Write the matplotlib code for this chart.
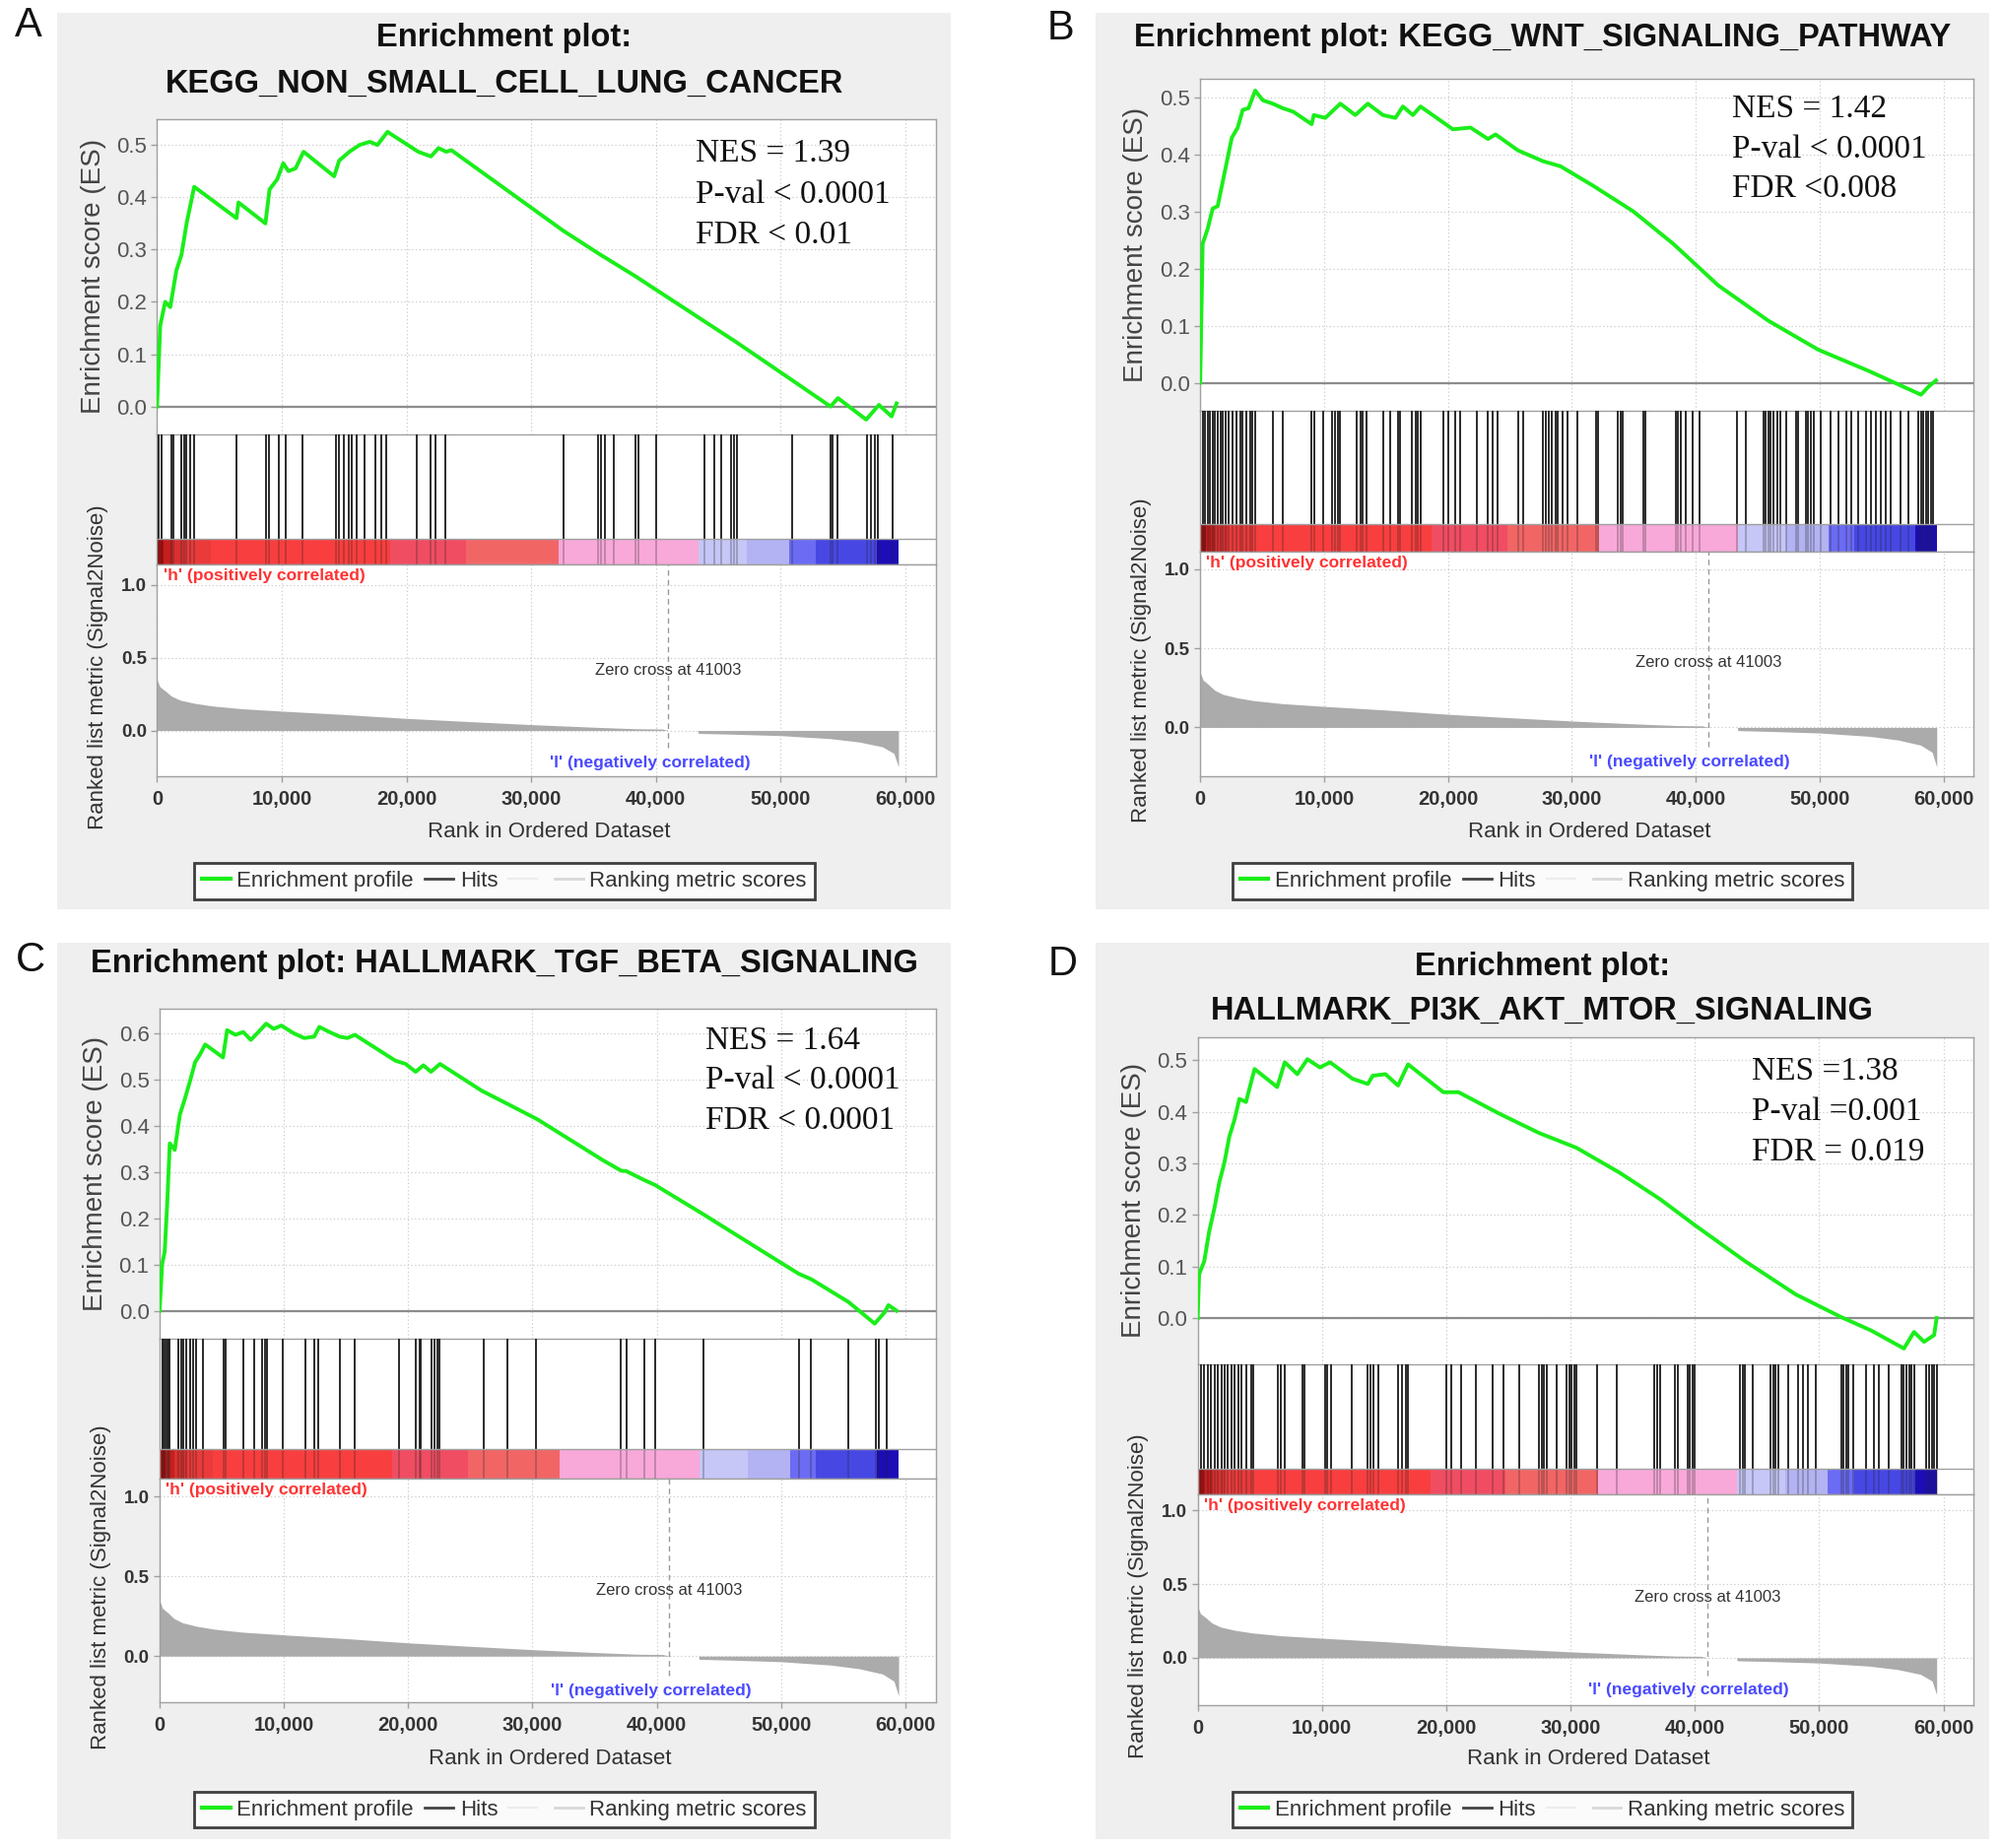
import matplotlib
matplotlib.use('Agg')
import matplotlib.pyplot as plt
from matplotlib.lines import Line2D
from matplotlib.patches import Rectangle

plt.rcParams['font.family'] = ['Liberation Sans', 'DejaVu Sans']

# ---------------- data ----------------
rank_ticks = [0, 10000, 20000, 30000, 40000, 50000, 60000]
n_genes = 59450
zero_cross = 41003

# ranked list metric (same ordered dataset in all panels)
metric_rank = [0, 230, 690, 1150, 1840, 2990, 4370, 6670, 10000, 14940, 20000, 25060,
               30110, 35170, 38390, 40500, 41003, 43350, 43400, 46000, 50000, 54000,
               56300, 58160, 59080, 59450]
metric_val = [0.348, 0.30, 0.27, 0.236, 0.209, 0.187, 0.169, 0.15, 0.133, 0.11, 0.083, 0.061,
              0.04, 0.022, 0.012, 0.01, 0.0, 0.0, -0.02, -0.025, -0.035, -0.056,
              -0.079, -0.112, -0.157, -0.25]

# colour strip under the hits
bar_edges = [0, 500, 1200, 2200, 4300, 18700, 24800, 32200, 43400, 47300, 50700, 52800, 57700, 59450]
bar_colors = ['#a80c0c', '#c41f1f', '#d93030', '#ea3a3a', '#f83e3e', '#f04c62', '#f26565',
              '#f8a8d9', '#c6c6f7', '#b3b3f3', '#6b6bf4', '#4747e4', '#1c0db6']

titles = {
    'A': ['Enrichment plot:', 'KEGG_NON_SMALL_CELL_LUNG_CANCER'],
    'B': ['Enrichment plot: KEGG_WNT_SIGNALING_PATHWAY'],
    'C': ['Enrichment plot: HALLMARK_TGF_BETA_SIGNALING'],
    'D': ['Enrichment plot:', 'HALLMARK_PI3K_AKT_MTOR_SIGNALING'],
}
stats = {
    'A': ['NES = 1.39', 'P-val < 0.0001', 'FDR < 0.01'],
    'B': ['NES = 1.42', 'P-val < 0.0001', 'FDR <0.008'],
    'C': ['NES = 1.64', 'P-val < 0.0001', 'FDR < 0.0001'],
    'D': ['NES =1.38', 'P-val =0.001', 'FDR = 0.019'],
}

# A: KEGG_NON_SMALL_CELL_LUNG_CANCER
es_rank_a = [0, 250, 650, 1060, 1550, 1960, 2370, 2980, 6370, 6530, 8690, 9020, 9630, 10120,
             10530, 11100, 11750, 14200, 14600, 15420, 16240, 17050, 17670, 18480, 20940,
             21960, 22570, 23180, 23600, 32570, 35430, 38290, 46450, 50940, 54000, 54600,
             56860, 57880, 58900, 59300]
es_val_a = [0, 0.154, 0.20, 0.19, 0.26, 0.29, 0.35, 0.42, 0.36, 0.39, 0.35, 0.415, 0.434, 0.465,
            0.45, 0.455, 0.487, 0.44, 0.47, 0.487, 0.50, 0.506, 0.50, 0.525, 0.487,
            0.478, 0.494, 0.487, 0.49, 0.336, 0.292, 0.25, 0.123, 0.05, 0.0, 0.016,
            -0.025, 0.003, -0.019, 0.006]
hits_a = [120, 330, 1140, 1350, 1960, 2160, 2370, 2690, 2980, 6370, 8770, 8980, 9790, 10320,
          11670, 14320, 14610, 15010, 15340, 15630, 16030, 16650, 17540, 17950, 18360, 20850,
          21950, 22360, 23090, 32560, 35330, 35620, 35900, 36640, 38350, 38600, 40030, 43900,
          44720, 45210, 46020, 46230, 46510, 50920, 53980, 54180, 54590, 56960, 57240, 57530,
          57770, 59000]

# B: KEGG_WNT_SIGNALING_PATHWAY
es_rank_b = [0, 200, 600, 1010, 1410, 2020, 2550, 3030, 3430, 3900, 4440, 5050, 5860, 6670,
             7500, 9000, 9170, 10100, 11310, 12520, 13530, 14750, 15760, 16360, 17170, 17780,
             20400, 21820, 23230, 23840, 25650, 27670, 29090, 31710, 34950, 38180, 41810,
             45850, 49890, 53930, 55950, 58180, 58780, 59390]
es_val_b = [0, 0.244, 0.27, 0.306, 0.31, 0.374, 0.43, 0.448, 0.479, 0.482, 0.513, 0.496, 0.49,
            0.482, 0.476, 0.454, 0.47, 0.465, 0.49, 0.47, 0.49, 0.47, 0.465, 0.485, 0.47, 0.485,
            0.445, 0.448, 0.428, 0.436, 0.408, 0.389, 0.38, 0.346, 0.301, 0.244, 0.171,
            0.109, 0.058, 0.021, 0.001, -0.021, -0.007, 0.004]
hits_b = [200, 400, 610, 810, 1010, 1210, 1410, 1620, 1820, 2020, 2300, 2630, 2950, 3230, 3430,
          3760, 4040, 4240, 4440, 5860, 6670, 9010, 9210, 9900, 10630, 10910, 11110, 11310,
          12650, 12930, 13130, 13450, 14750, 15350, 15960, 16160, 17090, 17370, 17570, 17780,
          19590, 20000, 20600, 21010, 22340, 23230, 23630, 24040, 25650, 26060, 27670, 27880,
          28160, 28400, 28680, 28890, 29290, 29610, 30420, 31920, 32120, 33730, 33940, 34140,
          35750, 35960, 38380, 38580, 38780, 39190, 39710, 40280, 43350, 44040, 45450, 45650,
          45850, 46060, 46260, 46580, 46860, 47270, 48080, 48280, 48880, 49090, 49290, 49490,
          50100, 50900, 51510, 52120, 52520, 53130, 53730, 54140, 54540, 54940, 55350, 55750,
          56560, 57170, 57970, 58180, 58380, 58580, 58780, 58980, 59190]

# C: HALLMARK_TGF_BETA_SIGNALING
es_rank_c = [0, 200, 410, 610, 820, 1220, 1630, 2040, 2450, 2860, 3260, 3670, 5100, 5430, 6100,
             6730, 7340, 7950, 8570, 9180, 9790, 10810, 11630, 12440, 12850, 13670, 14480,
             15100, 15710, 18970, 19790, 20600, 21220, 21830, 22560, 25910, 27950, 30400,
             35700, 37130, 37540, 38960, 39860, 43780, 47940, 51410, 52430, 55410, 57530,
             58340, 58630, 59280]
es_val_c = [0, 0.10, 0.128, 0.231, 0.362, 0.348, 0.424, 0.459, 0.497, 0.538, 0.555, 0.576,
            0.548, 0.607, 0.597, 0.603, 0.586, 0.603, 0.621, 0.61, 0.617, 0.60, 0.59, 0.593,
            0.614, 0.603, 0.593, 0.59, 0.597, 0.541, 0.534, 0.517, 0.531, 0.517, 0.534, 0.476,
            0.448, 0.414, 0.325, 0.303, 0.302, 0.283, 0.272, 0.208, 0.138, 0.080, 0.068,
            0.019, -0.028, -0.003, 0.012, 0.0]
hits_c = [200, 330, 450, 610, 690, 820, 1510, 1710, 1920, 2160, 2450, 2730, 2940, 3470, 5180,
          5300, 6730, 7630, 8280, 8450, 8650, 9910, 11750, 12440, 12730, 14480, 15710, 19300,
          20600, 20890, 21010, 21910, 22110, 22360, 22520, 26110, 27950, 30310, 37130, 37540,
          38960, 39860, 43780, 51410, 52430, 55410, 57650, 57850, 58470]

# D: HALLMARK_PI3K_AKT_MTOR_SIGNALING
es_rank_d = [0, 120, 530, 930, 1340, 1740, 2150, 2550, 2960, 3360, 3890, 4580, 6400, 7010,
             8020, 8830, 9840, 10650, 12470, 13690, 14090, 15110, 16120, 16930, 19770, 20990,
             24220, 27460, 30500, 33940, 37180, 40010, 44060, 48110, 51760, 54180, 56820,
             57630, 58440, 59250, 59450]
es_val_d = [0, 0.085, 0.11, 0.168, 0.212, 0.263, 0.301, 0.352, 0.384, 0.425, 0.419, 0.483,
            0.448, 0.496, 0.473, 0.502, 0.486, 0.496, 0.464, 0.454, 0.47, 0.473, 0.451, 0.492,
            0.438, 0.438, 0.397, 0.359, 0.33, 0.282, 0.231, 0.18, 0.11, 0.046, 0.002, -0.024,
            -0.059, -0.027, -0.046, -0.033, 0.0]
hits_d = [240, 520, 800, 1080, 1380, 1640, 1900, 2190, 2450, 2720, 3000, 3250, 3560, 3890,
          4290, 4460, 6480, 6720, 7010, 8420, 8630,
          10250, 10450, 10770, 12390, 13690, 13890, 14180, 14500, 16120, 16440, 16730, 16930,
          19970, 20370, 21180, 22400, 23730, 24620, 25840, 27460, 27660, 27860, 28070, 28880,
          29690, 29890, 30090, 30290, 30500, 32120, 33740, 36770, 36980, 37180, 38390, 38600,
          39410, 39610, 39810, 40010, 43660, 43860, 44060, 44670, 46090, 46290, 46490, 46700,
          47510, 48320, 48720, 49130, 49730, 51760, 51960, 52160, 52370, 52770, 53780, 54390,
          54800, 55610, 56620, 56820, 57020, 57230, 57430, 57630, 58640, 58850, 59050, 59250,
          59450]

series = {
    'A': (es_rank_a, es_val_a, hits_a),
    'B': (es_rank_b, es_val_b, hits_b),
    'C': (es_rank_c, es_val_c, hits_c),
    'D': (es_rank_d, es_val_d, hits_d),
}

# ---------------- layout (reference pixels, 1568 x 1447 grid) ----------------
W, H = 1568.0, 1447.0
layout = {
    'A': dict(bg=(45, 10, 745, 712), letter=(22, 20), title_y=[30, 66], x0=123, x1=733,
              es=(93, 340), hits=(340, 442), bar=20, rank=(442, 608), xlabel_y=651,
              legend_y=690, es_ylim=(-0.053, 0.55), rank_ylim=(-0.316, 1.14),
              nes_x=43200, nes_y=[0.483, 0.405, 0.327]),
    'B': dict(bg=(858, 10, 1558, 712), letter=(831, 22), title_y=[30], x0=940, x1=1546,
              es=(62, 322), hits=(322, 432), bar=22, rank=(432, 608), xlabel_y=651,
              legend_y=690, es_ylim=(-0.05, 0.533), rank_ylim=(-0.31, 1.11),
              nes_x=42900, nes_y=[0.48, 0.41, 0.341]),
    'C': dict(bg=(45, 738, 745, 1440), letter=(24, 752), title_y=[755], x0=125, x1=733,
              es=(790, 1048), hits=(1048, 1158), bar=23, rank=(1158, 1333), xlabel_y=1377,
              legend_y=1417, es_ylim=(-0.06, 0.653), rank_ylim=(-0.29, 1.11),
              nes_x=43900, nes_y=[0.584, 0.498, 0.412]),
    'D': dict(bg=(858, 738, 1558, 1440), letter=(832, 755), title_y=[757, 792], x0=938, x1=1546,
              es=(812, 1068), hits=(1068, 1170), bar=20, rank=(1170, 1335), xlabel_y=1377,
              legend_y=1417, es_ylim=(-0.089, 0.545), rank_ylim=(-0.32, 1.11),
              nes_x=44600, nes_y=[0.478, 0.399, 0.322]),
}

SPINE = '#a0a0a0'
GRID = dict(color='#cccccc', ls=(0, (1, 2)), lw=0.9)
XMAX = 62450


def fx(x):
    return x / W


def fy(y):
    return 1 - y / H


fig = plt.figure(figsize=(20.32, 18.76), dpi=100)


def add_box(p, span):
    top, bottom = span
    return fig.add_axes([fx(p['x0']), fy(bottom), fx(p['x1']) - fx(p['x0']), fy(top) - fy(bottom)])


def style(ax):
    for s in ax.spines.values():
        s.set_color(SPINE)
        s.set_linewidth(1.0)
    ax.set_xlim(0, XMAX)
    ax.tick_params(colors=SPINE, length=4, width=1)


for key, p in layout.items():
    es_rank, es_val, hits = series[key]

    # grey panel background
    l, t, r, b = p['bg']
    fig.patches.append(Rectangle((fx(l), fy(b)), fx(r) - fx(l), fy(t) - fy(b),
                                 transform=fig.transFigure, facecolor='#efefef',
                                 edgecolor='none', zorder=-10))
    fig.text(fx(p['letter'][0]), fy(p['letter'][1]), key, fontsize=30,
             ha='center', va='center', color='#111111')
    cx = (l + r) / 2
    for line, yy in zip(titles[key], p['title_y']):
        fig.text(fx(cx), fy(yy), line, fontsize=23.5, fontweight='bold',
                 ha='center', va='center', color='#111111')

    # running enrichment score
    ax_es = add_box(p, p['es'])
    style(ax_es)
    ax_es.set_ylim(*p['es_ylim'])
    top_tick = 0.6 if p['es_ylim'][1] > 0.6 else 0.5
    yt = [round(0.1 * i, 1) for i in range(int(round(top_tick * 10)) + 1)]
    ax_es.set_yticks(yt)
    ax_es.set_yticklabels([f'{v:.1f}' for v in yt], fontsize=16, color='#555555')
    ax_es.set_xticks(rank_ticks)
    ax_es.tick_params(axis='x', length=0, labelbottom=False)
    ax_es.grid(True, **GRID)
    ax_es.spines['bottom'].set_visible(False)
    ax_es.axhline(0, color='#8c8c8c', lw=1.6, zorder=2)
    ax_es.plot(es_rank, es_val, color='#1aee1a', lw=2.8, zorder=3)
    for txt, yy in zip(stats[key], p['nes_y']):
        ax_es.text(p['nes_x'], yy, txt, family='Liberation Serif', fontsize=24,
                   ha='left', va='center', color='#111111')

    # hits + colour strip
    ax_hit = add_box(p, p['hits'])
    style(ax_hit)
    ax_hit.set_ylim(0, 1)
    ax_hit.set_xticks([])
    ax_hit.set_yticks([])
    bf = p['bar'] / (p['hits'][1] - p['hits'][0])
    widths = [b2 - b1 for b1, b2 in zip(bar_edges[:-1], bar_edges[1:])]
    ax_hit.bar(bar_edges[:-1], bf, width=widths, bottom=0, align='edge',
               color=bar_colors, lw=0, zorder=2)
    ax_hit.vlines(hits, bf, 1, color='#222222', lw=1.35, zorder=3)
    ax_hit.vlines(hits, 0, bf, color='#222222', lw=1.2, alpha=0.3, zorder=3)
    ax_hit.axhline(bf, color=SPINE, lw=1.0, zorder=4)

    # ranked list metric
    ax_rk = add_box(p, p['rank'])
    style(ax_rk)
    ax_rk.set_ylim(*p['rank_ylim'])
    ax_rk.set_yticks([0.0, 0.5, 1.0])
    ax_rk.set_yticklabels(['0.0', '0.5', '1.0'], fontsize=13.5, fontweight='bold', color='#333333')
    ax_rk.set_xticks(rank_ticks)
    ax_rk.set_xticklabels([f'{v:,}' for v in rank_ticks], fontsize=14.5,
                          fontweight='bold', color='#333333')
    ax_rk.tick_params(axis='x', pad=6)
    ax_rk.grid(True, **GRID)
    ax_rk.fill_between(metric_rank, metric_val, 0, color='#ababab', lw=0, zorder=2)
    ax_rk.plot([zero_cross, zero_cross], [-0.12, p['rank_ylim'][1]], ls=(0, (4, 3)),
               color='#999999', lw=1.0, zorder=3)
    ax_rk.text(0.008, 1 - 9 / (p['rank'][1] - p['rank'][0]), "'h' (positively correlated)",
               transform=ax_rk.transAxes, fontsize=12.5, fontweight='bold',
               color='#ff3333', ha='left', va='center')
    ax_rk.text(zero_cross, 0.41, 'Zero cross at 41003', fontsize=12,
               color='#333333', ha='center', va='center')
    ax_rk.text(39500, -0.22, "'l' (negatively correlated)", fontsize=12.5,
               fontweight='bold', color='#4a4aff', ha='center', va='center')

    # axis labels
    fig.text(fx(p['x0'] - 50), fy((p['es'][0] + p['es'][1]) / 2), 'Enrichment score (ES)',
             rotation=90, fontsize=20, color='#444444', ha='center', va='center')
    fig.text(fx(p['x0'] - 46), fy((p['rank'][0] + p['rank'][1]) / 2 - 3),
             'Ranked list metric (Signal2Noise)', rotation=90, fontsize=16,
             color='#333333', ha='center', va='center')
    fig.text(fx((p['x0'] + p['x1']) / 2 + 2), fy(p['xlabel_y']), 'Rank in Ordered Dataset',
             fontsize=16, color='#333333', ha='center', va='center')

    handles = [Line2D([], [], color='#1aee1a', lw=3),
               Line2D([], [], color='#444444', lw=2),
               Line2D([], [], color='#ececec', lw=1.5),
               Line2D([], [], color='#d8d8d8', lw=2)]
    labels = ['Enrichment profile', 'Hits', '', 'Ranking metric scores']
    leg = fig.legend(handles, labels, loc='center', ncol=4,
                     bbox_to_anchor=(fx(cx), fy(p['legend_y'])), fontsize=16,
                     frameon=True, fancybox=False, edgecolor='#111111',
                     handlelength=1.3, handletextpad=0.3, columnspacing=0.5,
                     borderpad=0.35, labelcolor='#333333')
    leg.get_frame().set_linewidth(2)
    leg.get_frame().set_facecolor('white')

fig.savefig('out.png', dpi=100, facecolor='white')
